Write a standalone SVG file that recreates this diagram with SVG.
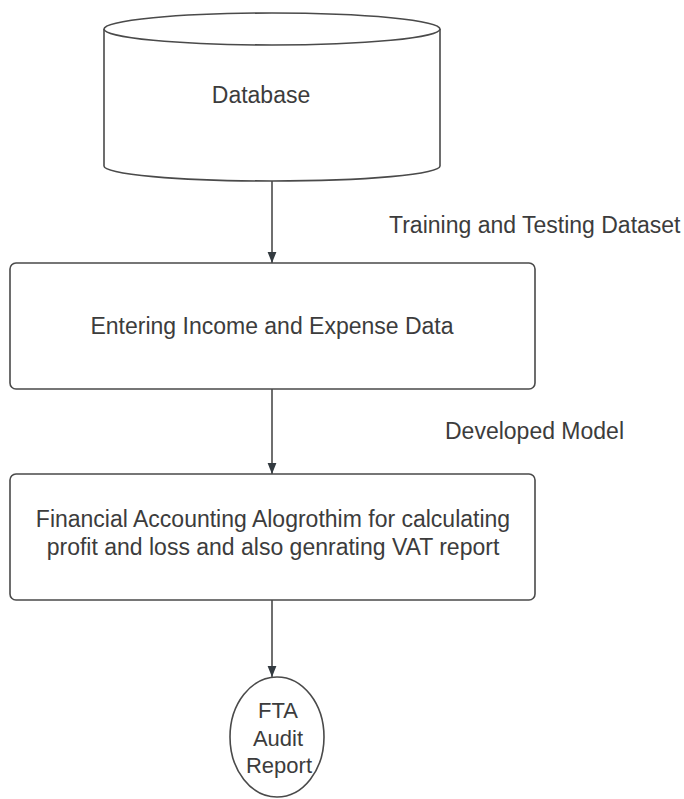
<svg xmlns="http://www.w3.org/2000/svg" width="684" height="799" viewBox="0 0 684 799">
  <style>
    .shape { fill: #ffffff; stroke: #4a4a4a; stroke-width: 1.6; }
    .edge { fill: none; stroke: #3f3f3f; stroke-width: 1.5; }
    .label { font-family: "Liberation Sans", Arial, sans-serif; font-size: 23px; fill: #3c3c3c; }
    .small { font-size: 22px; }
    .mid { text-anchor: middle; }
  </style>
  <defs>
    <marker id="head" markerWidth="12" markerHeight="16" refX="15" refY="6" orient="auto" markerUnits="userSpaceOnUse" viewBox="0 0 16 12">
      <path d="M0,0 L15,6 L0,12 Z" fill="#333a40"/>
    </marker>
  </defs>
  <rect width="684" height="799" fill="#ffffff"/>

  <g id="connectors">
    <line class="edge" x1="272" y1="181" x2="272" y2="263" marker-end="url(#head)"/>
    <line class="edge" x1="272" y1="389" x2="272" y2="474" marker-end="url(#head)"/>
    <line class="edge" x1="272" y1="600" x2="272" y2="677" marker-end="url(#head)"/>
    <text class="label" x="389" y="233">Training and Testing Dataset</text>
    <text class="label" x="445" y="439">Developed Model</text>
  </g>

  <g id="database">
    <path class="shape" d="M104,29 L104,166 A168,15 0 0 0 440,166 L440,29"/>
    <ellipse class="shape" cx="272" cy="29" rx="168" ry="16"/>
    <text class="label mid" x="261" y="103">Database</text>
  </g>

  <g id="entering-data">
    <rect class="shape" x="10" y="263" width="525" height="126" rx="6"/>
    <text class="label mid" x="272" y="334">Entering Income and Expense Data</text>
  </g>

  <g id="accounting-algorithm">
    <rect class="shape" x="10" y="474" width="525" height="126" rx="6"/>
    <text class="label mid" x="273" y="527">Financial Accounting Alogrothim for calculating</text>
    <text class="label mid" x="273" y="555">profit and loss and also genrating VAT report</text>
  </g>

  <g id="audit-report">
    <ellipse class="shape" cx="277" cy="737" rx="47" ry="60"/>
    <text class="label small mid" x="278" y="718">FTA</text>
    <text class="label small mid" x="278" y="746">Audit</text>
    <text class="label small mid" x="279" y="773">Report</text>
  </g>
</svg>
